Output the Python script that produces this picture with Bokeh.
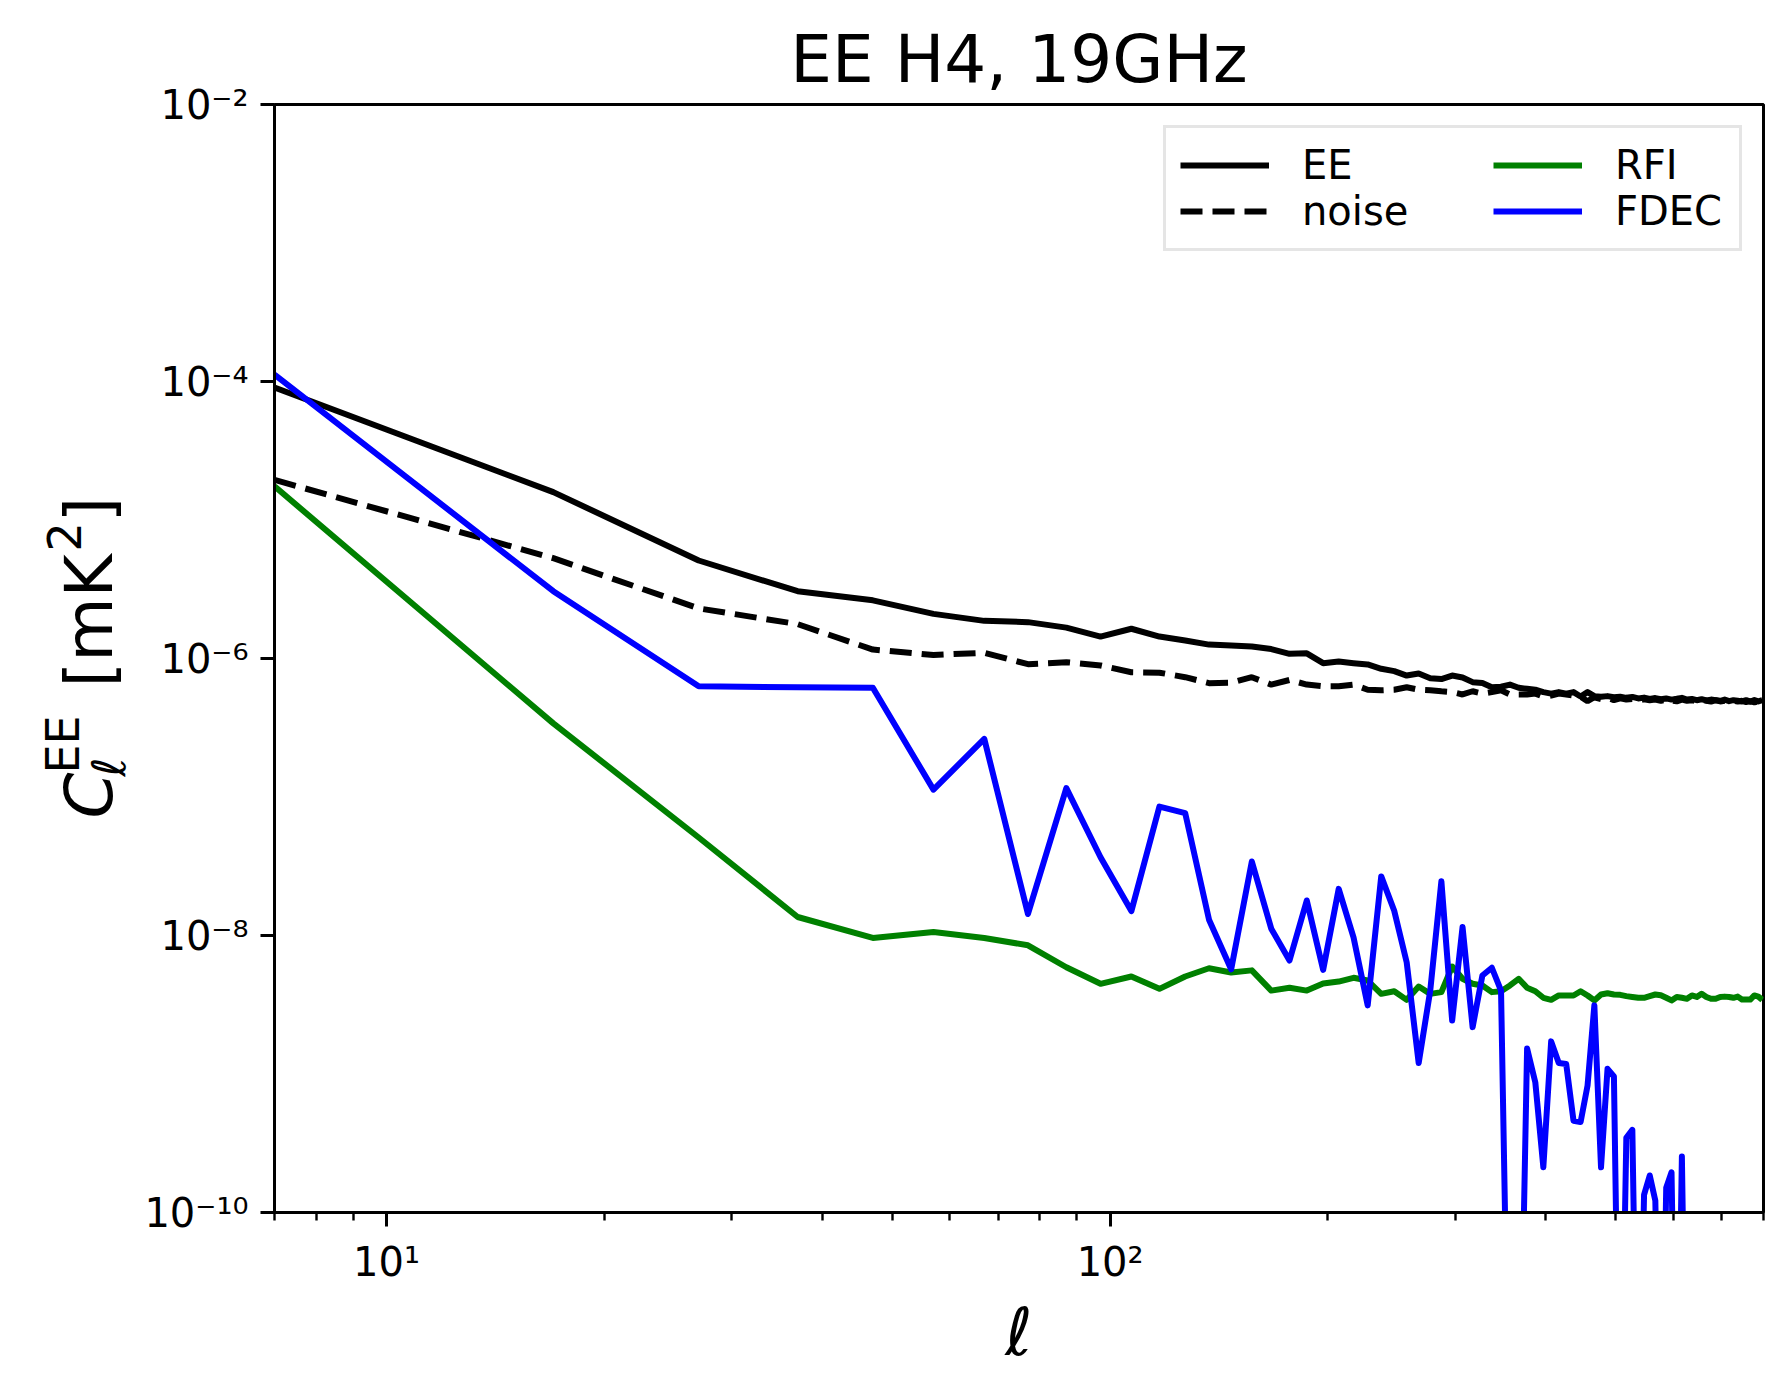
import math
from bokeh.plotting import figure
from bokeh.layouts import row
from bokeh.models import Range1d, FixedTicker, CustomJSTickFormatter, Legend, LegendItem
from bokeh.core.properties import value
from bokeh.embed import file_html
from bokeh.resources import INLINE

# multipole bin centres
ell = [7, 17, 27, 37, 47, 57, 67, 77, 87, 97,
       107, 117, 127, 137, 147, 157, 167, 177, 187, 197,
       207, 217, 227, 237, 247, 257, 267, 277, 287, 297,
       307, 317, 327, 337, 347, 357, 367, 377, 387, 397,
       407, 417, 427, 437, 447, 457, 467, 477, 487, 497,
       507, 517, 527, 537, 547, 557, 567, 577, 587, 597,
       607, 617, 627, 637, 647, 657, 667, 677, 687, 697,
       707, 717, 727, 737, 747, 757, 767, 777, 787, 797]

ee = [9.06e-5, 1.59e-5, 5.1e-6, 3.06e-6, 2.63e-6, 2.1e-6, 1.87e-6, 1.83e-6, 1.67e-6, 1.44e-6,
      1.64e-6, 1.44e-6, 1.35e-6, 1.26e-6, 1.24e-6, 1.22e-6, 1.17e-6, 1.08e-6, 1.09e-6, 9.25e-7,
      9.5e-7, 9.25e-7, 9.06e-7, 8.43e-7, 8.1e-7, 7.53e-7, 7.8e-7, 7.2e-7, 7.1e-7, 7.53e-7,
      7.3e-7, 6.75e-7, 6.65e-7, 6.2e-7, 6.25e-7, 6.48e-7, 6.15e-7, 6.04e-7, 5.95e-7, 5.72e-7,
      5.58e-7, 5.72e-7, 5.58e-7, 5.72e-7, 5.32e-7, 5.72e-7, 5.35e-7, 5.3e-7, 5.35e-7, 5.25e-7,
      5.3e-7, 5.2e-7, 5.28e-7, 5.15e-7, 5.22e-7, 5.1e-7, 5.18e-7, 5.08e-7, 5.15e-7, 5.05e-7,
      5.12e-7, 5.2e-7, 5.05e-7, 5.1e-7, 5.0e-7, 5.08e-7, 4.98e-7, 5.05e-7, 5.0e-7, 4.95e-7,
      5.05e-7, 4.92e-7, 5.0e-7, 4.95e-7, 4.9e-7, 5.0e-7, 4.88e-7, 5.02e-7, 4.9e-7, 5.0e-7]

noise = [1.95e-5, 5.3e-6, 2.3e-6, 1.77e-6, 1.16e-6, 1.06e-6, 1.1e-6, 9.1e-7, 9.4e-7, 8.9e-7,
         7.96e-7, 7.9e-7, 7.33e-7, 6.64e-7, 6.68e-7, 7.33e-7, 6.48e-7, 7.0e-7, 6.48e-7, 6.3e-7,
         6.3e-7, 6.48e-7, 5.95e-7, 5.9e-7, 5.95e-7, 6.2e-7, 5.95e-7, 5.9e-7, 5.8e-7, 5.72e-7,
         5.5e-7, 5.8e-7, 5.58e-7, 5.72e-7, 5.9e-7, 5.5e-7, 5.5e-7, 5.5e-7, 5.58e-7, 5.3e-7,
         5.4e-7, 5.58e-7, 5.5e-7, 5.4e-7, 5.3e-7, 4.92e-7, 5.25e-7, 5.1e-7, 5.2e-7, 5.0e-7,
         5.15e-7, 5.05e-7, 5.1e-7, 4.95e-7, 5.08e-7, 5.0e-7, 5.05e-7, 4.95e-7, 5.05e-7, 4.98e-7,
         4.9e-7, 5.05e-7, 4.95e-7, 5.0e-7, 4.9e-7, 5.02e-7, 4.95e-7, 4.88e-7, 5.0e-7, 4.9e-7,
         4.95e-7, 4.85e-7, 4.95e-7, 4.88e-7, 4.95e-7, 4.85e-7, 4.92e-7, 4.82e-7, 4.9e-7, 4.85e-7]

rfi = [1.75e-5, 3.4e-7, 5.1e-8, 1.36e-8, 9.6e-9, 1.06e-8, 9.6e-9, 8.5e-9, 5.9e-9, 4.48e-9,
       5.06e-9, 4.12e-9, 5.06e-9, 5.8e-9, 5.4e-9, 5.6e-9, 4.0e-9, 4.2e-9, 4.0e-9, 4.5e-9,
       4.65e-9, 4.95e-9, 4.73e-9, 3.79e-9, 3.96e-9, 3.43e-9, 4.28e-9, 3.79e-9, 3.9e-9, 5.97e-9,
       4.87e-9, 4.48e-9, 4.36e-9, 3.9e-9, 3.96e-9, 4.36e-9, 4.87e-9, 4.19e-9, 3.96e-9, 3.55e-9,
       3.43e-9, 3.69e-9, 3.69e-9, 3.69e-9, 3.96e-9, 3.69e-9, 3.4e-9, 3.75e-9, 3.83e-9, 3.75e-9,
       3.73e-9, 3.65e-9, 3.6e-9, 3.55e-9, 3.55e-9, 3.65e-9, 3.75e-9, 3.7e-9, 3.55e-9, 3.4e-9,
       3.6e-9, 3.55e-9, 3.49e-9, 3.69e-9, 3.6e-9, 3.8e-9, 3.6e-9, 3.49e-9, 3.49e-9, 3.6e-9,
       3.62e-9, 3.6e-9, 3.55e-9, 3.62e-9, 3.45e-9, 3.45e-9, 3.45e-9, 3.69e-9, 3.62e-9, 3.43e-9]

# values far below the axis floor are stored as 1e-12
fdec = [1.12e-4, 3.06e-6, 6.3e-7, 6.2e-7, 6.15e-7, 1.13e-7, 2.63e-7, 1.43e-8, 1.16e-7, 3.67e-8,
        1.5e-8, 8.53e-8, 7.64e-8, 1.3e-8, 5.7e-9, 3.42e-8, 1.12e-8, 6.6e-9, 1.79e-8, 5.65e-9,
        2.17e-8, 9.7e-9, 3.13e-9, 2.67e-8, 1.51e-8, 6.4e-9, 1.2e-9, 4.0e-9, 2.46e-8, 2.43e-9,
        1.15e-8, 2.18e-9, 5.14e-9, 5.85e-9, 4.0e-9, 1e-12, 1e-12, 1.53e-9, 8.7e-10, 2.12e-10,
        1.72e-9, 1.2e-9, 1.18e-9, 4.6e-10, 4.5e-10, 8.26e-10, 3.13e-9, 2.12e-10, 1.09e-9, 9.6e-10,
        1e-12, 3.46e-10, 3.95e-10, 1e-12, 1.34e-10, 1.85e-10, 1.22e-10, 1e-12, 1.51e-10, 1.95e-10,
        1e-12, 2.54e-10, 1e-12, 1e-12, 1e-12, 1e-12, 1e-12, 1e-12, 1e-12, 1e-12,
        1e-12, 1e-12, 1e-12, 1e-12, 1e-12, 1e-12, 1e-12, 1e-12, 1e-12, 1e-12]

x_major = [10, 100]
x_minor = [7, 8, 9, 20, 30, 40, 50, 60, 70, 80, 90, 200, 300, 400, 500, 600, 700, 800]
y_major = [1e-10, 1e-8, 1e-6, 1e-4, 1e-2]

FONT = "DejaVu Sans"
LABEL_W = 140
TOP, FRAME_H, BOTTOM = 104, 1108, 170

p = figure(x_axis_type="log", y_axis_type="log",
           x_range=Range1d(7, 800), y_range=Range1d(1e-10, 1e-2),
           frame_width=1489, frame_height=FRAME_H,
           min_border_left=274 - LABEL_W, min_border_right=12,
           min_border_top=TOP, min_border_bottom=BOTTOM,
           output_backend="svg", toolbar_location=None, title="EE H4, 19GHz")
p.align = "start"

p.title.text_font = FONT
p.title.text_font_size = "66px"
p.title.text_font_style = "normal"
p.title.text_color = "black"
p.title.align = "center"
p.title.standoff = 14

p.background_fill_color = "white"
p.border_fill_color = "white"
p.grid.visible = False
p.outline_line_color = "black"
p.outline_line_width = 3
p.outline_line_alpha = 1

sup = {'-': '\u207b', '0': '\u2070', '1': '\u00b9', '2': '\u00b2', '3': '\u00b3', '4': '\u2074',
       '5': '\u2075', '6': '\u2076', '7': '\u2077', '8': '\u2078', '9': '\u2079'}
js_map = "{" + ",".join("'%s':'%s'" % (k, v) for k, v in sup.items()) + "}"
fmt_code = ("const sup = " + js_map + ";\n"
            "const e = Math.round(Math.log10(tick)).toString();\n"
            "let s = '';\n"
            "for (const c of e) { s += sup[c]; }\n"
            "return '10' + s;\n")

p.xaxis.ticker = FixedTicker(ticks=x_major, minor_ticks=x_minor)
p.yaxis.ticker = FixedTicker(ticks=y_major, minor_ticks=[])

for ax in (p.xaxis[0], p.yaxis[0]):
    ax.formatter = CustomJSTickFormatter(code=fmt_code)
    ax.axis_line_width = 3
    ax.axis_line_color = "black"
    ax.major_tick_line_width = 3
    ax.minor_tick_line_width = 2.4
    ax.major_tick_in = 0
    ax.major_tick_out = 14
    ax.minor_tick_in = 0
    ax.minor_tick_out = 8
    ax.major_label_text_font = FONT
    ax.major_label_text_font_size = "40px"
    ax.major_label_text_color = "black"
    ax.major_label_standoff = 12

p.xaxis.axis_label = "\u2113"
p.xaxis.axis_label_text_font = FONT
p.xaxis.axis_label_text_font_style = "italic"
p.xaxis.axis_label_text_font_size = "66px"
p.xaxis.axis_label_text_color = "black"
p.xaxis.axis_label_standoff = 6

# lines
r_ee = p.line(ell, ee, line_color="black", line_width=6, line_join="round")
r_noise = p.line(ell, noise, line_color="black", line_width=6, line_dash="22 10")
r_rfi = p.line(ell, rfi, line_color="#008000", line_width=6, line_join="round")
r_fdec = p.line(ell, fdec, line_color="#0000ff", line_width=6, line_join="round")

def make_legend(items, margin, label_width, framed):
    lg = Legend(items=items, location="top_right", margin=margin, padding=14, spacing=0,
                glyph_width=89, glyph_height=20, label_standoff=33, label_width=label_width,
                label_text_font=FONT, label_text_font_size="40px", label_text_color="black")
    if framed:
        lg.border_line_color = "#cccccc"
        lg.border_line_width = 3
        lg.background_fill_color = "white"
        lg.background_fill_alpha = 0.8
    else:
        lg.border_line_color = None
        lg.background_fill_alpha = 0
    return lg

leg_a = make_legend([LegendItem(label="EE", renderers=[r_ee]),
                     LegendItem(label="noise", renderers=[r_noise])], 21, 423, True)
leg_b = make_legend([LegendItem(label="RFI", renderers=[r_rfi]),
                     LegendItem(label="FDEC", renderers=[r_fdec])], 38, 110, False)
p.add_layout(leg_a)
p.add_layout(leg_b)

# y-axis label drawn in a narrow companion panel whose frame spans the same
# vertical extent as the main frame; coordinates are page pixels (y downward)
lab = figure(frame_width=LABEL_W, frame_height=FRAME_H,
             min_border_left=0, min_border_right=0,
             min_border_top=TOP, min_border_bottom=BOTTOM,
             x_range=Range1d(0, LABEL_W), y_range=Range1d(TOP + FRAME_H, TOP),
             x_axis_location=None, y_axis_location=None,
             output_backend="svg", toolbar_location=None)
lab.align = "start"
lab.grid.visible = False
lab.outline_line_color = None
lab.background_fill_color = "white"
lab.border_fill_color = "white"

pieces = [("C", 89, 818, "66px", "italic"),
          ("\u2113", 108, 776, "46px", "italic"),
          ("EE", 62, 773, "46px", "normal"),
          ("[mK", 89, 687, "66px", "normal"),
          ("2", 63, 551, "46px", "normal"),
          ("]", 89, 522, "66px", "normal")]
for txt, px, py, size, style in pieces:
    lab.text(x=[px], y=[py], text=[txt], angle=math.pi / 2,
             text_font=value(FONT), text_font_size=value(size), text_font_style=value(style),
             text_baseline=value("alphabetic"), text_align=value("left"), text_color="black")

layout = row(lab, p)
open("out.html", "w").write(file_html(layout, INLINE))
